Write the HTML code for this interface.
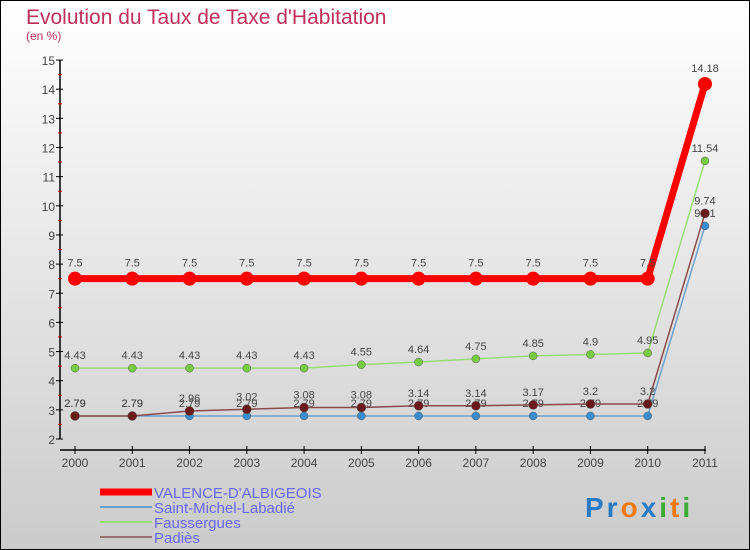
<!DOCTYPE html>
<html><head><meta charset="utf-8"><style>
body{margin:0;padding:0}
#wrap{width:750px;height:550px;position:relative;overflow:hidden}
svg text{font-family:"Liberation Sans",sans-serif}
</style></head><body>
<div id="wrap">
<svg id="c" width="750" height="550" xmlns="http://www.w3.org/2000/svg">
<defs><linearGradient id="bg" x1="0" y1="0" x2="0" y2="1">
<stop offset="0" stop-color="#ffffff"/><stop offset="1" stop-color="#cbcbcb"/></linearGradient></defs>
<rect x="0.5" y="0.5" width="749" height="549" fill="url(#bg)" stroke="#000"/>
<text x="26" y="24" font-size="21" fill="#c0305a">Evolution du Taux de Taxe d'Habitation</text>
<text x="26" y="40" font-size="12" fill="#c0305a">(en %)</text>
<g id="axes"></g><g id="series"></g><g id="legend"></g>
<text x="585" y="517" font-size="28" font-weight="bold" letter-spacing="3"><tspan fill="#2a7cc7">Pr</tspan><tspan fill="#f07a10">o</tspan><tspan fill="#2a7cc7">x</tspan><tspan fill="#3aaa30">i</tspan><tspan fill="#f07a10">t</tspan><tspan fill="#3aaa30">i</tspan></text>
</svg></div>
<script>
const years=[2000,2001,2002,2003,2004,2005,2006,2007,2008,2009,2010,2011];
const yTicks=[2,3,4,5,6,7,8,9,10,11,12,13,14,15];
const valence=[7.5,7.5,7.5,7.5,7.5,7.5,7.5,7.5,7.5,7.5,7.5,14.18];
const saintMichel=[2.79,2.79,2.79,2.79,2.79,2.79,2.79,2.79,2.79,2.79,2.79,9.31];
const faussergues=[4.43,4.43,4.43,4.43,4.43,4.55,4.64,4.75,4.85,4.9,4.95,11.54];
const padies=[2.79,2.79,2.96,3.02,3.08,3.08,3.14,3.14,3.17,3.2,3.2,9.74];
const NS="http://www.w3.org/2000/svg";
const X=i=>75+i*57.27;
const Y=v=>439-(v-2)*29.15;
function mk(tag,attrs,parent){const e=document.createElementNS(NS,tag);for(const k in attrs)e.setAttribute(k,attrs[k]);parent.appendChild(e);return e;}
const ax=document.getElementById('axes');
let l=mk('line',{x1:60,y1:Y(15),x2:60,y2:Y(2),stroke:'#000','stroke-width':1.5},ax);


l=mk('line',{x1:60,y1:450,x2:706,y2:450,stroke:'#000','stroke-width':1.5},ax);


yTicks.forEach(v=>{
 let t=mk('line',{x1:56,y1:Y(v),x2:63,y2:Y(v),stroke:'#000'},ax);
 
 
 let tx=mk('text',{x:55,y:Y(v)+5,'font-size':12,'text-anchor':'end',fill:'#444'},ax);tx.textContent=v;
 
 
 if(v<15){let m=mk('line',{x1:58,y1:Y(v+0.5),x2:62,y2:Y(v+0.5),stroke:'#e00'},ax);
 
 }
});
years.forEach((yr,i)=>{
 let t=mk('line',{x1:X(i),y1:446,x2:X(i),y2:454,stroke:'#000'},ax);
 
 
 let tx=mk('text',{x:X(i),y:467,'font-size':12,'text-anchor':'middle',fill:'#444'},ax);tx.textContent=yr;
 
 
});
const sg=document.getElementById('series');
const series=[
 {name:'Saint-Michel-Labadié',data:saintMichel,line:'#6aa0cc',dot:'#3a8ed0',w:1.5,r:4,key:'saint-michel'},
 {name:'Faussergues',data:faussergues,line:'#99dd77',dot:'#77cc44',w:1.5,r:4,key:'faussergues'},
 {name:'Padiès',data:padies,line:'#8a4a4a',dot:'#6a1a1a',w:1.5,r:4.5,key:'padies'},
 {name:'VALENCE-D\'ALBIGEOIS',data:valence,line:'#ff0000',dot:'#ff0000',w:7,r:7,key:'valence'}
];
series.forEach(s=>{
 const g=mk('g',{},sg);
 
 
 const p=mk('polyline',{points:s.data.map((v,i)=>X(i)+','+Y(v)).join(' '),fill:'none',stroke:s.line,'stroke-width':s.w},g);
 
 
 s.data.forEach((v,i)=>{
  const c=mk('circle',{cx:X(i),cy:Y(v),r:s.r,fill:s.dot,stroke:s.w>2?'none':'#555','stroke-width':0.5},g);
  
  
  const t=mk('text',{x:X(i),y:Y(v)-(s.w>2?12:9),'font-size':11,'text-anchor':'middle',fill:'#444'},g);
  t.textContent=v;
  
  
 });
});
const lg=document.getElementById('legend');
const leg=[
 {name:"VALENCE-D'ALBIGEOIS",c:'#ff0000',w:7},
 {name:'Saint-Michel-Labadié',c:'#6aa0cc',w:2},
 {name:'Faussergues',c:'#99dd77',w:2},
 {name:'Padiès',c:'#997070',w:2}
];
leg.forEach((e,i)=>{
 const y=492+i*15;
 const ln=mk('line',{x1:100,y1:y,x2:152,y2:y,stroke:e.c,'stroke-width':e.w},lg);
 
 
 const t=mk('text',{x:154,y:y+6,'font-size':15,fill:'#6666ee'},lg);
 t.textContent=e.name;
 
 
});
</script>
</body></html>
